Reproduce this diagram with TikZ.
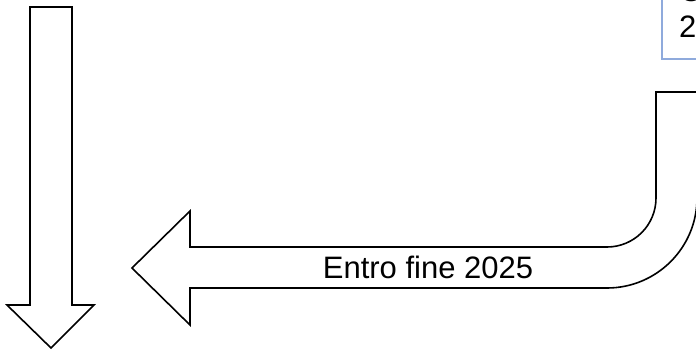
\documentclass[tikz,border=0pt]{standalone}
\usepackage{fontspec}
\setmainfont{Liberation Sans}
\definecolor{boxblue}{HTML}{8FAADC}
\tikzset{
  arrowshape/.style={draw=black, line width=1.6pt, fill=white, line join=miter},
  labeltext/.style={font=\fontsize{31}{36}\selectfont, text=black, inner sep=0pt},
}
\begin{document}
\begin{tikzpicture}[x=1pt,y=-1pt]
\useasboundingbox (0,0) rectangle (696,350);
% top-right box (clipped by page)
\draw[draw=boxblue, line width=1.5pt, fill=white] (662,-40) rectangle (760,59);
\node[labeltext, anchor=base west, align=left] (boxtext) at (679,38) {O\\2};
% down arrow
\draw[arrowshape] (30,7) -- (72,7) -- (72,305) -- (94,305) -- (51,348) -- (7,305) -- (30,305) -- cycle;
% bent arrow
\draw[arrowshape] (132,268) -- (190,211) -- (190,247) -- (607,247)
  arc[start angle=90, end angle=0, radius=49] -- (656,92) -- (720,92) -- (720,198) -- (697,198)
  arc[start angle=0, end angle=90, radius=90] -- (190,288) -- (190,325) -- cycle;
\node[labeltext] (bentlabel) at (428,267.5) {Entro fine 2025};
\end{tikzpicture}
\end{document}
